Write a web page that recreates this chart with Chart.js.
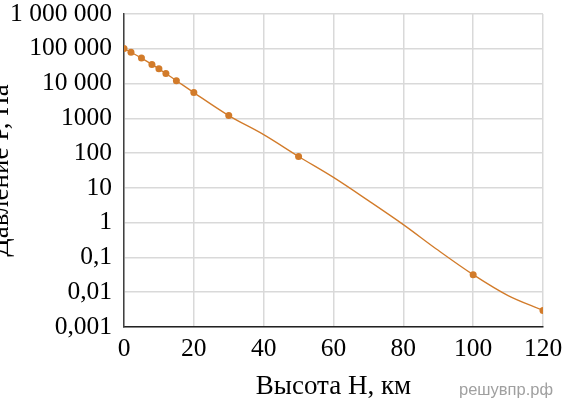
<!DOCTYPE html>
<html>
<head>
<meta charset="utf-8">
<script src="https://cdn.jsdelivr.net/npm/chart.js@4"></script>
<style>
    html, body { margin: 0; padding: 0; background: #fff; }
    #wrap { position: relative; width: 562px; height: 403px; overflow: hidden; }
    #chart { position: absolute; left: -10px; top: 0; }
    #mark {
        position: absolute; left: 459px; top: 380px;
        font-family: "Liberation Sans", Arial, sans-serif; font-size: 16.5px; color: #a0a0a0;
    }
</style>
</head>
<body>
<div id="wrap">
    <canvas id="chart" width="572" height="403"></canvas>
    <div id="mark">решувпр.рф</div>
</div>
<script>
// Высота, км и давление, Па
const heights   = [0, 2, 5, 8, 10, 12, 15, 20, 30, 40, 50, 60, 70, 80, 90, 100, 110, 120];
const pressures = [101325, 79500, 54000, 35600, 26500, 19400, 12100, 5500, 1200, 340, 80, 20, 4.3, 0.88, 0.16, 0.032, 0.008, 0.003];
// точки, у которых на графике есть маркер
const markedHeights = [0, 2, 5, 8, 10, 12, 15, 20, 30, 50, 100, 120];

const yTickValues = [1000000, 100000, 10000, 1000, 100, 10, 1, 0.1, 0.01, 0.001];
const yTickLabels = ['1 000 000', '100 000', '10 000', '1000', '100', '10', '1', '0,1', '0,01', '0,001'];

const xTitle = 'Высота Н, км';
const yTitle = 'Давление Р, Па';

const lineColor = '#d27b2a';
const gridColor = '#d9d9d9';
const serif = '"Liberation Serif", "Times New Roman", serif';

const points = heights.map((h, i) => ({ x: h, y: pressures[i] }));

new Chart(document.getElementById('chart').getContext('2d'), {
    type: 'line',
    data: {
        datasets: [{
            data: points,
            borderColor: lineColor,
            backgroundColor: lineColor,
            borderWidth: 1.3,
            cubicInterpolationMode: 'monotone',
            pointRadius: ctx => markedHeights.includes(heights[ctx.dataIndex]) ? 3.5 : 0,
            pointBorderWidth: 0,
            pointHoverRadius: 0
        }]
    },
    options: {
        responsive: false,
        animation: false,
        events: [],
        layout: { padding: { top: 14, right: 19, left: 0, bottom: 0 } },
        plugins: { legend: { display: false }, tooltip: { enabled: false } },
        scales: {
            x: {
                type: 'linear',
                min: 0, max: 120,
                ticks: { stepSize: 20, color: '#000', padding: 7, font: { family: serif, size: 25.5 } },
                grid: { color: gridColor, lineWidth: 1.5, drawTicks: false },
                border: { color: '#222', width: 1.5 },
                title: { display: true, text: xTitle, color: '#000', padding: { top: 10, bottom: 0 }, font: { family: serif, size: 27 } },
                afterFit: scale => {
                    scale.height = 76;
                    scale.paddingLeft = 0;
                    scale.paddingRight = 0;
                }
            },
            y: {
                type: 'logarithmic',
                min: 0.001, max: 1000000,
                afterBuildTicks: scale => { scale.ticks = yTickValues.map(v => ({ value: v })); },
                ticks: {
                    color: '#000', padding: 12, autoSkip: false,
                    font: { family: serif, size: 25.5 },
                    callback: v => {
                        const i = yTickValues.findIndex(t => Math.abs(Math.log10(t) - Math.log10(v)) < 1e-6);
                        return i >= 0 ? yTickLabels[i] : '';
                    }
                },
                grid: { color: gridColor, lineWidth: 1.5, drawTicks: false },
                border: { color: '#404040', width: 1.5 },
                title: { display: true, text: yTitle, color: '#000', padding: { top: -5, bottom: 0 }, font: { family: serif, size: 27 } },
                afterFit: scale => {
                    scale.width = 134;
                    scale.paddingTop = 0;
                    scale.paddingBottom = 0;
                }
            }
        }
    }
});
</script>
</body>
</html>
